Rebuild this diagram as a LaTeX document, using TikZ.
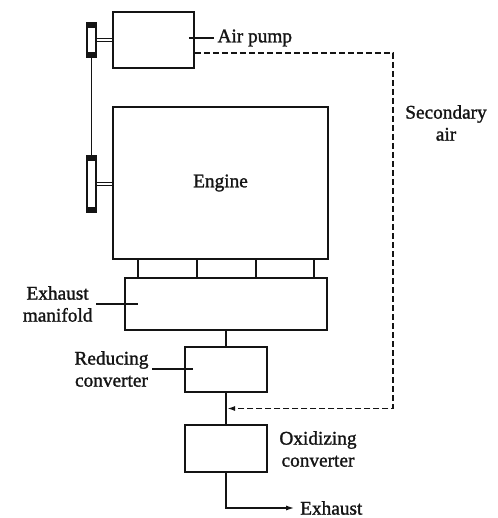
\documentclass[tikz,border=0pt]{standalone}
\usepackage{fontspec}
\setmainfont{Liberation Serif}[FakeBold=1.4]
\usetikzlibrary{arrows.meta, positioning, calc}
\definecolor{tinta}{HTML}{141414}
\tikzset{
  cajaBase/.style={
    draw=tinta, line width=1.8pt, rectangle,
    inner sep=0pt, text=tinta
  },
  polea/.style={
    draw=tinta, line width=1.4pt, fill=white,
    minimum width=9pt, inner sep=0pt,
    path picture={
      \fill[tinta] (path picture bounding box.north west)
        rectangle ([yshift=-5pt]path picture bounding box.north east);
      \fill[tinta] (path picture bounding box.south west)
        rectangle ([yshift=5pt]path picture bounding box.south east);
    }
  },
  eje/.style={draw=tinta, line width=1.1pt, double=white, double distance=2.5pt},
  linea/.style={draw=tinta, line width=1.8pt},
  flecha/.style={-{Latex[length=9pt, width=5pt]}, line width=1.8pt, tinta},
  flechaPunteada/.style={-{Latex[length=8pt, width=5pt]}, line width=1.8pt,
    dash pattern=on 6pt off 3pt, tinta},
  etiqueta/.style={align=center, text=tinta},
}

\begin{document}
\begin{tikzpicture}[x=1pt, y=-1pt, font=\fontsize{19.3}{22}\selectfont]
    \useasboundingbox (0,0) rectangle (497,518);
    % cajas
    \node[cajaBase, minimum width=81pt, minimum height=56pt] (pump) at (153.5,40) {};
    \node[cajaBase, minimum width=215pt, minimum height=152pt] (engine) at (220.5,183) {Engine};
    \node[cajaBase, minimum width=202pt, minimum height=52pt] (manifold) at (226,304) {};
    \node[cajaBase, minimum width=82pt, minimum height=45pt] (reduc) at (226,369.5) {};
    \node[cajaBase, minimum width=82pt, minimum height=47pt] (oxid) at (226,448.5) {};
    % poleas y correa
    \node[polea, minimum height=34pt] (poleaA) at (91.5,40) {};
    \node[polea, minimum height=56pt] (poleaB) at (91.5,184) {};
    \draw[eje] (poleaA.east) -- (pump.west);
    \draw[eje] (poleaB.east) -- (poleaB.east -| engine.west);
    \draw[linea] (poleaA.south) -- (poleaB.north);
    % ramales del colector
    \foreach \x in {138,197,256,314}
      \draw[linea] (\x,259) -- (\x,278);
    \draw[linea] (manifold.south) -- (reduc.north);
    \draw[linea] (reduc.south) -- (oxid.north);
    \coordinate (aire) at ($(reduc.south)!0.5!(oxid.north)$);
    % etiquetas
    \node[etiqueta, anchor=west] (lblPump) at (214,38) {Air pump};
    \coordinate (pumpIn) at ($(pump.east |- lblPump.west)+(-6,0)$);
    \draw[linea] (pumpIn) -- (lblPump.west);
    \node[etiqueta] (lblSec) at (446,123) {Secondary\\air};
    \node[etiqueta, anchor=east] (lblMan) at (96,304) {Exhaust\\manifold};
    \draw[linea] (lblMan.east) -- ++(42,0);
    \node[etiqueta, anchor=east] (lblReduc) at (152,369) {Reducing\\converter};
    \draw[linea] (lblReduc.east) -- ++(41,0);
    \node[etiqueta] (lblOxid) at (318,449) {Oxidizing\\converter};
    \node[etiqueta, anchor=west, inner sep=1pt] (lblExh) at (299,508) {Exhaust};
    % aire secundario y escape
    \draw[flechaPunteada, shorten >=1pt] ([yshift=-13pt]pump.east) -- ++(198,0) |- (aire);
    \draw[flecha, shorten >=4pt] (oxid.south) |- (lblExh.west);
  \end{tikzpicture}
\end{document}
